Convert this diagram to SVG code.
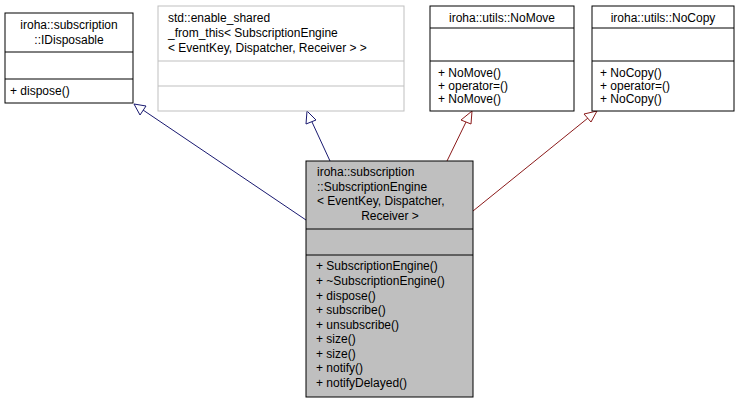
<svg xmlns="http://www.w3.org/2000/svg" width="736" height="404" viewBox="0 0 736 404">
<style>
text{font-family:"Liberation Sans",Arial,sans-serif;font-size:12px;fill:#000}
.b{fill:#fff;stroke:#000;stroke-width:1}
.g{fill:#fff;stroke:#bfbfbf;stroke-width:1}
.m{fill:#bfbfbf;stroke:#000;stroke-width:1}
.c{text-anchor:middle}
.eb{fill:none;stroke:#191970}
.er{fill:none;stroke:#8b1a1a}
.hb{fill:#fff;stroke:#191970}
.hr{fill:#fff;stroke:#8b1a1a}
</style>
<rect width="736" height="404" fill="#fff"/>
<g id="edges">
<path class="eb" d="M306,220 L143,110"/><polygon class="hb" points="134,104 146,106 140,115"/>
<path class="eb" d="M330,161 L312,122"/><polygon class="hb" points="307,111 316,120 306,124"/>
<path class="er" d="M447,161 L466,122"/><polygon class="hr" points="472,111 471,124 461,120"/>
<path class="er" d="M473,211 L588,118"/><polygon class="hr" points="597,111 591,122 584,114"/>
</g>
<g id="IDisposable">
<rect class="b" x="5" y="13" width="128" height="90"/>
<line x1="5" y1="52" x2="133" y2="52" stroke="#000"/><line x1="5" y1="79" x2="133" y2="79" stroke="#000"/>
<text class="c" x="69" y="29">iroha::subscription</text>
<text class="c" x="69" y="44">::IDisposable</text>
<text x="10" y="95">+ dispose()</text>
</g>
<g id="enable_shared">
<rect class="g" x="158" y="6" width="246" height="105"/>
<line x1="158" y1="61" x2="404" y2="61" stroke="#bfbfbf"/><line x1="158" y1="86" x2="404" y2="86" stroke="#bfbfbf"/>
<text x="168" y="22">std::enable_shared</text>
<text x="168" y="37">_from_this&lt; SubscriptionEngine</text>
<text x="168" y="52">&lt; EventKey, Dispatcher, Receiver &gt; &gt;</text>
</g>
<g id="NoMove">
<rect class="b" x="430" y="6" width="144" height="105"/>
<line x1="430" y1="28" x2="574" y2="28" stroke="#000"/><line x1="430" y1="61" x2="574" y2="61" stroke="#000"/>
<text class="c" x="502" y="22">iroha::utils::NoMove</text>
<text x="438" y="77">+ NoMove()</text>
<text x="438" y="90">+ operator=()</text>
<text x="438" y="103">+ NoMove()</text>
</g>
<g id="NoCopy">
<rect class="b" x="592" y="6" width="142" height="105"/>
<line x1="592" y1="28" x2="734" y2="28" stroke="#000"/><line x1="592" y1="61" x2="734" y2="61" stroke="#000"/>
<text class="c" x="663" y="22">iroha::utils::NoCopy</text>
<text x="600" y="77">+ NoCopy()</text>
<text x="600" y="90">+ operator=()</text>
<text x="600" y="103">+ NoCopy()</text>
</g>
<g id="SubscriptionEngine">
<rect class="m" x="306" y="161" width="167" height="236"/>
<line x1="306" y1="229" x2="473" y2="229" stroke="#000"/><line x1="306" y1="255" x2="473" y2="255" stroke="#000"/>
<text x="317" y="176">iroha::subscription</text>
<text x="317" y="191">::SubscriptionEngine</text>
<text x="317" y="205">&lt; EventKey, Dispatcher,</text>
<text class="c" x="390" y="220">Receiver &gt;</text>
<text x="316" y="270">+ SubscriptionEngine()</text>
<text x="316" y="285">+ ~SubscriptionEngine()</text>
<text x="316" y="300">+ dispose()</text>
<text x="316" y="314">+ subscribe()</text>
<text x="316" y="329">+ unsubscribe()</text>
<text x="316" y="343">+ size()</text>
<text x="316" y="358">+ size()</text>
<text x="316" y="372">+ notify()</text>
<text x="316" y="387">+ notifyDelayed()</text>
</g>
</svg>
